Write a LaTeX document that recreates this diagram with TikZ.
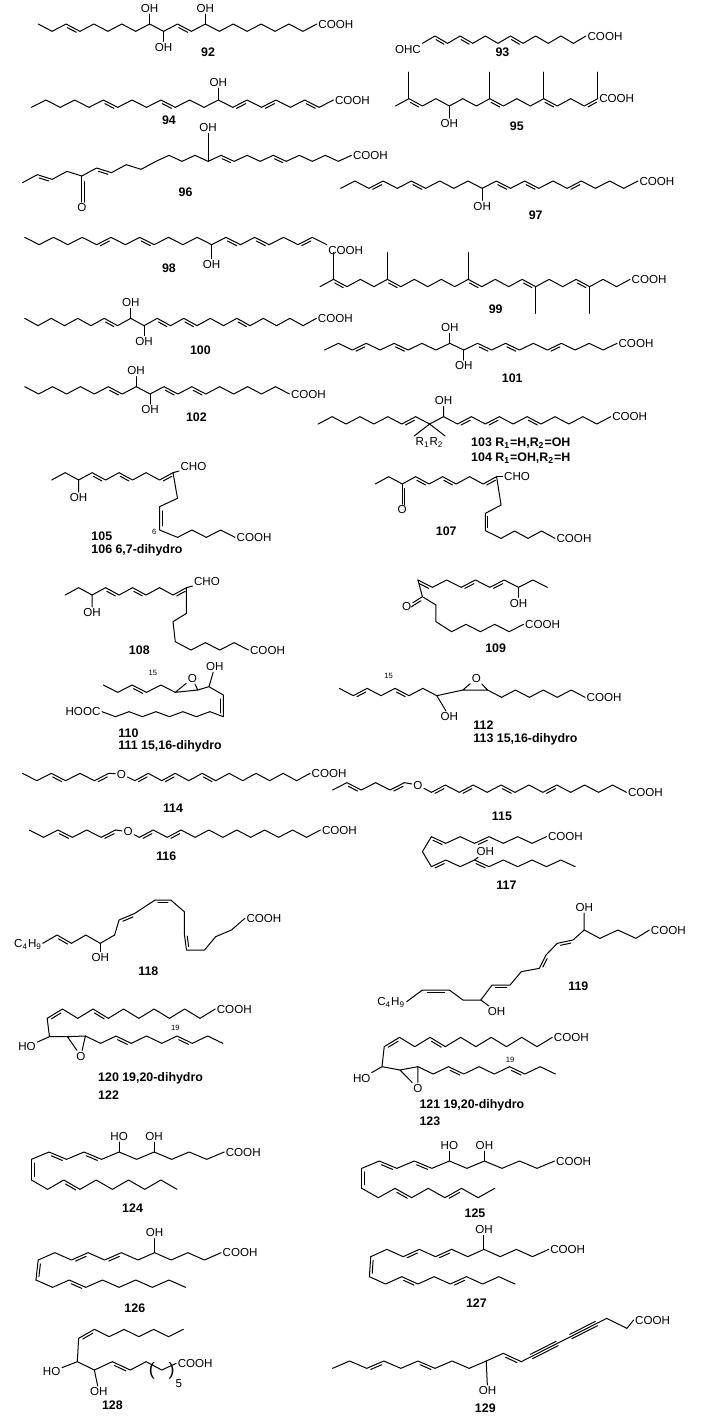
\documentclass[tikz,border=0pt]{standalone}
\usepackage{fontspec}
\setmainfont{Liberation Sans}
\usetikzlibrary{positioning,calc}

\tikzset{
  bond/.style={line width=0.5pt, line join=round, line cap=round},
  txt/.style={inner sep=0.6pt, font=\fontsize{5.8}{6.5}\selectfont},
  cpd/.style={inner sep=0.6pt, font=\fontsize{6.2}{7}\selectfont\bfseries},
  nr/.style={inner sep=0.3pt, font=\fontsize{3.8}{4}\selectfont},
}
% zigzag chain: name, x, y, bonds, first step, second step
\newcommand\chain[8]{%
  \foreach \k in {0,...,#4}{\coordinate (#1-\k) at ({#2+ceil(\k/2)*(#5)+floor(\k/2)*(#7)},{#3+ceil(\k/2)*(#6)+floor(\k/2)*(#8)});}
  \draw[bond] (#1-0) \foreach \k in {1,...,#4}{ -- (#1-\k)};}
\newcommand\dbl[3][-90]{\draw[bond] ($(#2)!.18!(#3)!1.3pt!#1:(#3)$) -- ($(#3)!.18!(#2)!1.3pt!-#1:(#2)$);}
\newcommand\trp[2]{\draw[bond] ($(#1)!1.2pt!90:(#2)$) -- ($(#2)!1.2pt!-90:(#1)$);
  \draw[bond] ($(#1)!1.2pt!-90:(#2)$) -- ($(#2)!1.2pt!90:(#1)$);}

\begin{document}
\begin{tikzpicture}[x=0.2247pt,y=-0.16667pt]
\useasboundingbox (0,0) rectangle (1560,4248);

% 92
\chain{m92}{85}{72}{20}{31}{22}{31}{-22}
\dbl{m92-2}{m92-3} \dbl{m92-10}{m92-11}
\node[txt, above=5pt of m92-8] (o92a) {OH};
\node[txt, below=5pt of m92-9] (o92b) {OH};
\node[txt, above=5pt of m92-12] (o92c) {OH};
\draw[bond] (m92-8) -- (o92a) (m92-9) -- (o92b) (m92-12) -- (o92c);
\node[txt, anchor=west] (c92) at (m92-20) {COOH};
\node[cpd] (n92) at (463,158) {92};

% 93
\chain{m93}{940}{130}{13}{28}{-22}{28}{22}
\dbl{m93-1}{m93-2} \dbl{m93-3}{m93-4} \dbl{m93-7}{m93-8}
\node[txt, anchor=north east] (ohc93) at (m93-0) {OHC};
\node[txt, anchor=west] (c93) at (m93-13) {COOH};
\node[cpd] (n93) at (1118,158) {93};

% 94
\chain{m94}{70}{322}{21}{32}{-22}{32}{22}
\dbl{m94-5}{m94-6} \dbl{m94-9}{m94-10} \dbl{m94-14}{m94-15} \dbl{m94-16}{m94-17} \dbl{m94-19}{m94-20}
\node[txt, above=6pt of m94-13] (o94) {OH};
\draw[bond] (m94-13) -- (o94);
\node[txt, anchor=west] (c94) at (m94-21) {COOH};
\node[cpd] (n94) at (376,362) {94};

% 95
\chain{m95}{880}{318}{15}{30}{-22}{30}{22}
\foreach \i in {1,7,11,15}{\coordinate (me95-\i) at ($(m95-\i)+(0,-80)$); \draw[bond] (m95-\i) -- (me95-\i);}
\dbl{m95-1}{m95-2} \dbl{m95-7}{m95-8} \dbl{m95-11}{m95-12} \dbl{m95-14}{m95-15}
\node[txt, below=6pt of m95-4] (o95) {OH};
\draw[bond] (m95-4) -- (o95);
\node[txt, anchor=west] (c95) at (m95-15) {COOH};
\node[cpd] (n95) at (1150,378) {95};

% 96
\chain{e96}{50}{548}{9}{33}{-24}{33}{14}
\chain{m96}{347}{484}{15}{29}{-18}{29}{18}
\dbl{e96-1}{e96-2} \dbl{e96-5}{e96-6} \dbl{m96-5}{m96-6} \dbl{m96-9}{m96-10}
\node[txt, below=13pt of e96-4] (o96) {O};
\draw[bond] (e96-4) -- (o96); \dbl[90]{e96-4}{o96}
\node[txt, above=14pt of m96-4] (oh96) {OH};
\draw[bond] (m96-4) -- (oh96);
\node[txt, anchor=west] (c96) at (m96-15) {COOH};
\node[cpd] (n96) at (413,576) {96};

% 97
\chain{m97}{758}{565}{21}{31.5}{-22}{31.5}{22}
\dbl{m97-2}{m97-3} \dbl{m97-5}{m97-6} \dbl{m97-11}{m97-12} \dbl{m97-13}{m97-14} \dbl{m97-16}{m97-17}
\node[txt, below=6pt of m97-10] (o97) {OH};
\draw[bond] (m97-10) -- (o97);
\node[txt, anchor=west] (c97) at (m97-21) {COOH};
\node[cpd] (n97) at (1192,645) {97};

% 98
\chain{m98}{55}{712}{21}{32}{22}{32}{-22}
\dbl{m98-5}{m98-6} \dbl{m98-8}{m98-9} \dbl{m98-14}{m98-15} \dbl{m98-16}{m98-17} \dbl{m98-19}{m98-20}
\node[txt, below=7pt of m98-13] (o98) {OH};
\draw[bond] (m98-13) -- (o98);
\node[txt, anchor=north west] (c98) at (m98-21) {COOH};
\node[cpd] (n98) at (376,805) {98};

% 99
\chain{m99}{712}{860}{23}{30}{-22}{30}{22}
\foreach \i in {1,5,11}{\coordinate (me99-\i) at ($(m99-\i)+(0,-80)$); \draw[bond] (m99-\i) -- (me99-\i);}
\foreach \i in {16,20}{\coordinate (me99-\i) at ($(m99-\i)+(0,80)$); \draw[bond] (m99-\i) -- (me99-\i);}
\dbl{m99-1}{m99-2} \dbl{m99-5}{m99-6} \dbl{m99-11}{m99-12} \dbl{m99-15}{m99-16} \dbl{m99-19}{m99-20}
\node[txt, anchor=west] (c99) at (m99-23) {COOH};
\node[cpd] (n99) at (1103,928) {99};

% 100
\chain{m100}{55}{955}{22}{29.5}{22}{29.5}{-22}
\dbl{m100-6}{m100-7} \dbl{m100-10}{m100-11} \dbl{m100-12}{m100-13} \dbl{m100-16}{m100-17}
\node[txt, above=5pt of m100-8] (o100a) {OH};
\node[txt, below=5pt of m100-9] (o100b) {OH};
\draw[bond] (m100-8) -- (o100a) (m100-9) -- (o100b);
\node[txt, anchor=west] (c100) at (m100-22) {COOH};
\node[cpd] (n100) at (446,1050) {100};

% 101
\chain{m101}{722}{1050}{21}{31}{-20}{31}{20}
\dbl{m101-2}{m101-3} \dbl{m101-5}{m101-6} \dbl{m101-11}{m101-12} \dbl{m101-13}{m101-14} \dbl{m101-16}{m101-17}
\node[txt, above=5pt of m101-9] (o101a) {OH};
\node[txt, below=5pt of m101-10] (o101b) {OH};
\draw[bond] (m101-9) -- (o101a) (m101-10) -- (o101b);
\node[txt, anchor=west] (c101) at (m101-21) {COOH};
\node[cpd] (n101) at (1140,1135) {101};

% 102
\chain{m102}{55}{1160}{19}{31}{22}{31}{-22}
\dbl{m102-6}{m102-7} \dbl{m102-10}{m102-11} \dbl{m102-12}{m102-13}
\node[txt, above=5pt of m102-8] (o102a) {OH};
\node[txt, below=5pt of m102-9] (o102b) {OH};
\draw[bond] (m102-8) -- (o102a) (m102-9) -- (o102b);
\node[txt, anchor=west] (c102) at (m102-19) {COOH};
\node[cpd] (n102) at (437,1253) {102};

% 103 / 104
\chain{m103}{708}{1272}{21}{31}{-22}{31}{22}
\dbl{m103-6}{m103-7} \dbl{m103-10}{m103-11} \dbl{m103-12}{m103-13} \dbl{m103-15}{m103-16}
\node[txt, above=5pt of m103-9] (o103) {OH};
\node[txt, below=6pt of m103-8] (r103) {R\textsubscript{1}R\textsubscript{2}};
\draw[bond] (m103-9) -- (o103) (m103-8) -- (r103.north west) (m103-8) -- (r103.north east);
\node[txt, anchor=west] (c103) at (m103-21) {COOH};
\node[cpd, anchor=west] (n103) at (1045,1330) {103 R\textsubscript{1}=H,R\textsubscript{2}=OH};
\node[cpd, anchor=west] (n104) at (1045,1375) {104 R\textsubscript{1}=OH,R\textsubscript{2}=H};

% 105 / 106
\chain{m105}{115}{1440}{9}{30}{-22}{30}{22}
\coordinate (b105a) at (395,1495); \coordinate (b105b) at (355,1520);
\coordinate (b105c) at (355,1590); \coordinate (b105d) at (395,1612);
\draw[bond] (m105-9) -- (b105a) -- (b105b) -- (b105c) -- (b105d);
\chain{h105}{395}{1612}{4}{32}{-22}{32}{22}
\dbl{m105-3}{m105-4} \dbl{m105-5}{m105-6} \dbl{m105-8}{m105-9} \dbl[90]{b105b}{b105c}
\node[txt, below=6pt of m105-2] (o105) {OH};
\node[txt, above right=0pt and 3pt of m105-9] (ch105) {CHO};
\draw[bond] (m105-2) -- (o105) (m105-9) -- (ch105);
\node[nr, anchor=east] (p105) at (350,1597) {6};
\node[txt, anchor=west] (c105) at (h105-4) {COOH};
\node[cpd, anchor=west] (n105) at (200,1610) {105};
\node[cpd, anchor=west] (n106) at (200,1652) {106 6,7-dihydro};

% 107
\chain{m107}{835}{1452}{9}{30}{-22}{30}{22}
\coordinate (b107a) at (1115,1515); \coordinate (b107b) at (1080,1540);
\coordinate (b107c) at (1080,1592); \coordinate (b107d) at (1115,1615);
\draw[bond] (m107-9) -- (b107a) -- (b107b) -- (b107c) -- (b107d);
\chain{h107}{1115}{1615}{4}{30}{-22}{30}{22}
\dbl{m107-3}{m107-4} \dbl{m107-5}{m107-6} \dbl{m107-8}{m107-9} \dbl[90]{b107b}{b107c}
\node[txt, below=10pt of m107-2] (o107) {O};
\draw[bond] (m107-2) -- (o107); \dbl[90]{m107-2}{o107}
\node[txt, right=3pt of m107-9] (ch107) {CHO};
\draw[bond] (m107-9) -- (ch107);
\node[txt, anchor=west] (c107) at (h107-4) {COOH};
\node[cpd] (n107) at (993,1595) {107};

% 108
\chain{m108}{145}{1785}{9}{30}{-22}{30}{22}
\coordinate (b108a) at (415,1840); \coordinate (b108b) at (385,1865);
\coordinate (b108c) at (390,1925); \coordinate (b108d) at (425,1950);
\draw[bond] (m108-9) -- (b108a) -- (b108b) -- (b108c) -- (b108d);
\chain{h108}{425}{1950}{4}{32}{-22}{32}{22}
\dbl{m108-3}{m108-4} \dbl{m108-5}{m108-6} \dbl{m108-8}{m108-9}
\node[txt, below=6pt of m108-2] (o108) {OH};
\node[txt, above right=0pt and 3pt of m108-9] (ch108) {CHO};
\draw[bond] (m108-2) -- (o108) (m108-9) -- (ch108);
\node[txt, anchor=west] (c108) at (h108-4) {COOH};
\node[cpd] (n108) at (310,1952) {108};

% 109
\chain{m109}{930}{1740}{9}{32}{22}{32}{-22}
\coordinate (k109) at (940,1790);
\node[txt] (o109) at (905,1820) {O};
\coordinate (b109a) at (970,1815); \coordinate (b109b) at (970,1865); \coordinate (b109c) at (1005,1895);
\draw[bond] (m109-0) -- (k109) -- (b109a) -- (b109b) -- (b109c) (k109) -- (o109);
\dbl[90]{k109}{o109}
\chain{h109}{1005}{1895}{5}{32}{-22}{32}{22}
\dbl{m109-0}{m109-1} \dbl{m109-3}{m109-4} \dbl{m109-5}{m109-6}
\node[txt, below=5pt of m109-7] (o109b) {OH};
\draw[bond] (m109-7) -- (o109b);
\node[txt, anchor=west] (c109) at (h109-5) {COOH};
\node[cpd] (n109) at (1103,1945) {109};

% 110 / 111
\chain{m110}{230}{2055}{5}{32}{22}{32}{-22}
\coordinate (e110) at (440,2070);
\node[txt] (o110) at (428,2035) {O};
\coordinate (c110a) at (465,2060); \coordinate (c110b) at (497,2085); \coordinate (c110c) at (497,2150);
\node[txt] (oh110) at (478,2000) {OH};
\draw[bond] (m110-5) -- (o110) -- (e110) -- (m110-5);
\draw[bond] (e110) -- (c110a) -- (c110b) -- (c110c) (c110a) -- (oh110);
\chain{q110}{497}{2150}{9}{-30}{-15}{-30}{15}
\dbl{m110-2}{m110-3} \dbl{c110b}{c110c}
\node[nr] (p110) at (340,2020) {15};
\node[txt, anchor=east] (h110) at (q110-9) {HOOC};
\node[cpd, anchor=west] (n110) at (260,2200) {110};
\node[cpd, anchor=west] (n111) at (260,2240) {111 15,16-dihydro};

% 112 / 113
\chain{m112}{755}{2065}{7}{31}{22}{31}{-22}
\coordinate (e112a) at (1030,2070); \coordinate (e112b) at (1085,2070);
\node[txt] (o112) at (1060,2035) {O};
\node[txt] (oh112) at (1000,2150) {OH};
\draw[bond] (m112-7) -- (e112a) -- (o112) -- (e112b) -- (e112a) (m112-7) -- (oh112);
\chain{s112}{1085}{2070}{7}{31}{22}{31}{-22}
\dbl{m112-1}{m112-2} \dbl{m112-4}{m112-5}
\node[nr] (p112) at (865,2028) {15};
\node[txt, anchor=west] (c112) at (s112-7) {COOH};
\node[cpd, anchor=west] (n112) at (1050,2175) {112};
\node[cpd, anchor=west] (n113) at (1050,2218) {113 15,16-dihydro};

% 114
\chain{a114}{50}{2320}{6}{32}{22}{32}{-22}
\node[txt] (o114) at (270,2322) {O};
\chain{b114}{300}{2342}{13}{30}{-22}{30}{22}
\draw[bond] (a114-6) -- (o114) -- (b114-0);
\dbl{a114-2}{a114-3} \dbl{a114-5}{a114-6} \dbl{b114-0}{b114-1} \dbl{b114-2}{b114-3} \dbl{b114-5}{b114-6}
\node[txt, anchor=west] (c114) at (b114-13) {COOH};
\node[cpd] (n114) at (385,2425) {114};

% 115
\chain{a115}{740}{2370}{5}{32}{-22}{32}{22}
\node[txt] (o115) at (930,2355) {O};
\chain{b115}{960}{2377}{14}{31}{-22}{31}{22}
\draw[bond] (a115-5) -- (o115) -- (b115-0);
\dbl{a115-1}{a115-2} \dbl{a115-4}{a115-5} \dbl{b115-0}{b115-1} \dbl{b115-2}{b115-3} \dbl{b115-5}{b115-6} \dbl{b115-8}{b115-9}
\node[txt, anchor=west] (c115) at (b115-14) {COOH};
\node[cpd] (n115) at (1117,2450) {115};

% 116
\chain{a116}{65}{2490}{6}{32}{22}{32}{-22}
\node[txt] (o116) at (285,2495) {O};
\chain{b116}{310}{2512}{13}{31}{-22}{31}{22}
\draw[bond] (a116-6) -- (o116) -- (b116-0);
\dbl{a116-2}{a116-3} \dbl{a116-5}{a116-6} \dbl{b116-0}{b116-1} \dbl{b116-2}{b116-3}
\node[txt, anchor=west] (c116) at (b116-13) {COOH};
\node[cpd] (n116) at (370,2570) {116};

% 117
\chain{a117}{960}{2510}{8}{32}{20}{32}{-20}
\coordinate (l117) at (940,2555);
\chain{b117}{960}{2600}{10}{32}{-20}{32}{20}
\draw[bond] (a117-0) -- (l117) -- (b117-0);
\node[txt] (oh117) at (1080,2555) {OH};
\draw[bond] (b117-3) -- (oh117);
\dbl{a117-0}{a117-1} \dbl{a117-3}{a117-4} \dbl{b117-0}{b117-1} \dbl{b117-3}{b117-4}
\node[txt, anchor=west] (c117) at (a117-8) {COOH};
\node[cpd] (n117) at (1127,2655) {117};

% 118
\node[txt, anchor=east] (r118) at (97,2832) {C\textsubscript{4}H\textsubscript{9}};
\chain{a118}{95}{2830}{5}{32}{-25}{32}{25}
\coordinate (y118a) at (265,2760); \coordinate (y118b) at (300,2740); \coordinate (y118c) at (345,2700);
\coordinate (y118d) at (380,2700); \coordinate (y118e) at (410,2735); \coordinate (y118f) at (410,2800);
\coordinate (y118g) at (415,2850); \coordinate (y118h) at (455,2850); \coordinate (y118i) at (480,2810);
\coordinate (y118j) at (515,2790); \coordinate (y118k) at (545,2755);
\draw[bond] (a118-5) -- (y118a) -- (y118b) -- (y118c) -- (y118d) -- (y118e) -- (y118f) -- (y118g) -- (y118h) -- (y118i) -- (y118j) -- (y118k);
\dbl{a118-1}{a118-2} \dbl{y118a}{y118b} \dbl{y118c}{y118d} \dbl[90]{y118f}{y118g}
\node[txt, below=4pt of a118-4] (o118) {OH};
\draw[bond] (a118-4) -- (o118);
\node[txt, anchor=west] (c118) at (y118k) {COOH};
\node[cpd] (n118) at (330,2915) {118};

% 119
\node[txt, anchor=east] (r119) at (905,3008) {C\textsubscript{4}H\textsubscript{9}};
\foreach \px/\py [count=\i from 0] in {905/3005,940/2970,1000/2970,1030/3000,1070/3000,1095/2955,1135/2955,1160/2915,1200/2905,1215/2865,1240/2830,1275/2820,1300/2790,1335/2815,1375/2790,1415/2815,1445/2790}{\coordinate (z119-\i) at (\px,\py);}
\draw[bond] (z119-0) \foreach \i in {1,...,16}{ -- (z119-\i)};
\dbl{z119-1}{z119-2} \dbl{z119-5}{z119-6} \dbl{z119-8}{z119-9} \dbl{z119-10}{z119-11}
\node[txt] (o119a) at (1105,3035) {OH};
\node[txt] (o119b) at (1300,2722) {OH};
\draw[bond] (z119-4) -- (o119a) (z119-12) -- (o119b);
\node[txt, anchor=west] (c119) at (z119-16) {COOH};
\node[cpd] (n119) at (1287,2960) {119};

% 120 / 122
\chain{a120}{105}{3055}{11}{34}{-28}{34}{28}
\coordinate (h120) at (110,3110); \coordinate (ep120a) at (150,3110); \coordinate (ep120b) at (190,3108);
\node[txt] (ho120) at (60,3140) {HO};
\node[txt] (o120) at (180,3168) {O};
\draw[bond] (a120-0) -- (h120) -- (ep120a) (h120) -- (ho120);
\draw[bond] (ep120a) -- (ep120b) -- (o120) -- (ep120a);
\chain{b120}{190}{3108}{9}{34}{22}{34}{-22}
\dbl{a120-0}{a120-1} \dbl{a120-3}{a120-4} \dbl{b120-2}{b120-3} \dbl{b120-6}{b120-7}
\node[nr] (p120) at (390,3085) {19};
\node[txt, anchor=west] (c120) at (a120-11) {COOH};
\node[cpd, anchor=west] (n120) at (215,3235) {120 19,20-dihydro};
\node[cpd, anchor=west] (n122) at (215,3285) {122};

% 121 / 123
\chain{a121}{855}{3140}{11}{34}{-28}{34}{28}
\coordinate (h121) at (850,3200); \coordinate (ep121a) at (890,3210); \coordinate (ep121b) at (930,3200);
\node[txt] (ho121) at (805,3235) {HO};
\node[txt] (o121) at (930,3265) {O};
\draw[bond] (a121-0) -- (h121) -- (ep121a) (h121) -- (ho121);
\draw[bond] (ep121a) -- (ep121b) -- (o121) -- (ep121a);
\chain{b121}{930}{3200}{9}{34}{22}{34}{-22}
\dbl{a121-0}{a121-1} \dbl{a121-3}{a121-4} \dbl{b121-2}{b121-3} \dbl{b121-6}{b121-7}
\node[nr] (p121) at (1135,3180) {19};
\node[txt, anchor=west] (c121) at (a121-11) {COOH};
\node[cpd, anchor=west] (n121) at (930,3315) {121 19,20-dihydro};
\node[cpd, anchor=west] (n123) at (930,3365) {123};

% 124
\chain{a124}{70}{3478}{11}{39}{-22}{39}{22}
\coordinate (l124) at (70,3540);
\chain{b124}{70}{3540}{9}{36}{28}{36}{-28}
\draw[bond] (a124-0) -- (l124);
\dbl{a124-1}{a124-2} \dbl{a124-3}{a124-4} \dbl[90]{a124-0}{l124} \dbl{b124-2}{b124-3}
\node[txt, above=5pt of a124-5] (o124a) {HO};
\node[txt, above=5pt of a124-7] (o124b) {OH};
\draw[bond] (a124-5) -- (o124a) (a124-7) -- (o124b);
\node[txt, anchor=west] (c124) at (a124-11) {COOH};
\node[cpd] (n124) at (295,3625) {124};

% 125
\chain{a125}{805}{3505}{11}{39}{-22}{39}{22}
\coordinate (l125) at (805,3565);
\chain{b125}{805}{3565}{8}{37}{28}{37}{-28}
\draw[bond] (a125-0) -- (l125);
\dbl{a125-1}{a125-2} \dbl{a125-3}{a125-4} \dbl[90]{a125-0}{l125} \dbl{b125-2}{b125-3} \dbl{b125-5}{b125-6}
\node[txt, above=5pt of a125-5] (o125a) {HO};
\node[txt, above=5pt of a125-7] (o125b) {OH};
\draw[bond] (a125-5) -- (o125a) (a125-7) -- (o125b);
\node[txt, anchor=west] (c125) at (a125-11) {COOH};
\node[cpd] (n125) at (1057,3640) {125};

% 126
\chain{a126}{85}{3780}{11}{37}{-22}{37}{22}
\coordinate (l126) at (80,3840);
\chain{b126}{80}{3840}{9}{37}{22}{37}{-22}
\draw[bond] (a126-0) -- (l126);
\dbl{a126-2}{a126-3} \dbl{a126-4}{a126-5} \dbl[90]{a126-0}{l126} \dbl{b126-2}{b126-3}
\node[txt, above=7pt of a126-7] (o126) {OH};
\draw[bond] (a126-7) -- (o126);
\node[txt, anchor=west] (c126) at (a126-11) {COOH};
\node[cpd] (n126) at (300,3925) {126};

% 127
\chain{a127}{825}{3770}{11}{36}{-22}{36}{22}
\coordinate (l127) at (822,3830);
\chain{b127}{822}{3830}{9}{36}{22}{36}{-22}
\draw[bond] (a127-0) -- (l127);
\dbl{a127-2}{a127-3} \dbl{a127-4}{a127-5} \dbl[90]{a127-0}{l127} \dbl{b127-2}{b127-3} \dbl{b127-5}{b127-6}
\node[txt, above=7pt of a127-7] (o127) {OH};
\draw[bond] (a127-7) -- (o127);
\node[txt, anchor=west] (c127) at (a127-11) {COOH};
\node[cpd] (n127) at (1060,3910) {127};

% 128
\chain{a128}{210}{3988}{6}{33}{22}{33}{-22}
\coordinate (p128a) at (175,4015); \coordinate (p128b) at (172,4085); \coordinate (p128c) at (210,4110);
\coordinate (p128d) at (250,4085); \coordinate (p128e) at (290,4110); \coordinate (p128f) at (325,4085);
\coordinate (p128g) at (360,4110);
\node[txt] (ho128) at (115,4115) {HO};
\node[txt] (oh128) at (220,4175) {OH};
\node[txt, anchor=west] (c128) at (392,4090) {COOH};
\draw[bond] (a128-0) -- (p128a) -- (p128b) -- (p128c) -- (p128d) -- (p128e) -- (p128f) -- (p128g) -- (c128.west);
\draw[bond] (p128b) -- (ho128) (p128c) -- (oh128);
\dbl[90]{a128-0}{p128a} \dbl{p128d}{p128e}
\node[txt, font=\fontsize{9}{9}\selectfont] (pa128) at (338,4112) {(};
\node[txt, font=\fontsize{9}{9}\selectfont] (pb128) at (382,4112) {)};
\node[txt] (s128) at (398,4150) {5};
\node[cpd] (n128) at (250,4215) {128};

% 129
\chain{a129}{740}{4105}{9}{38}{-22}{38}{22}
\coordinate (t129a) at (1120,4060); \coordinate (t129b) at (1160,4085);
\coordinate (t129c) at (1350,3955); \coordinate (t129d) at (1395,3985);
\coordinate (u129a) at ($(t129b)!.12!(t129c)$); \coordinate (u129b) at ($(t129b)!.42!(t129c)$);
\coordinate (u129c) at ($(t129b)!.58!(t129c)$); \coordinate (u129d) at ($(t129b)!.88!(t129c)$);
\draw[bond] (a129-9) -- (t129a) -- (t129b) -- (t129c) -- (t129d);
\trp{u129a}{u129b} \trp{u129c}{u129d}
\dbl{a129-2}{a129-3} \dbl{a129-5}{a129-6} \dbl{t129a}{t129b}
\node[txt] (o129) at (1085,4172) {OH};
\draw[bond] (a129-9) -- (o129);
\node[txt, anchor=west] (c129) at (1410,3960) {COOH};
\draw[bond] (t129d) -- (c129.west);
\node[cpd] (n129) at (1080,4225) {129};
\end{tikzpicture}
\end{document}
